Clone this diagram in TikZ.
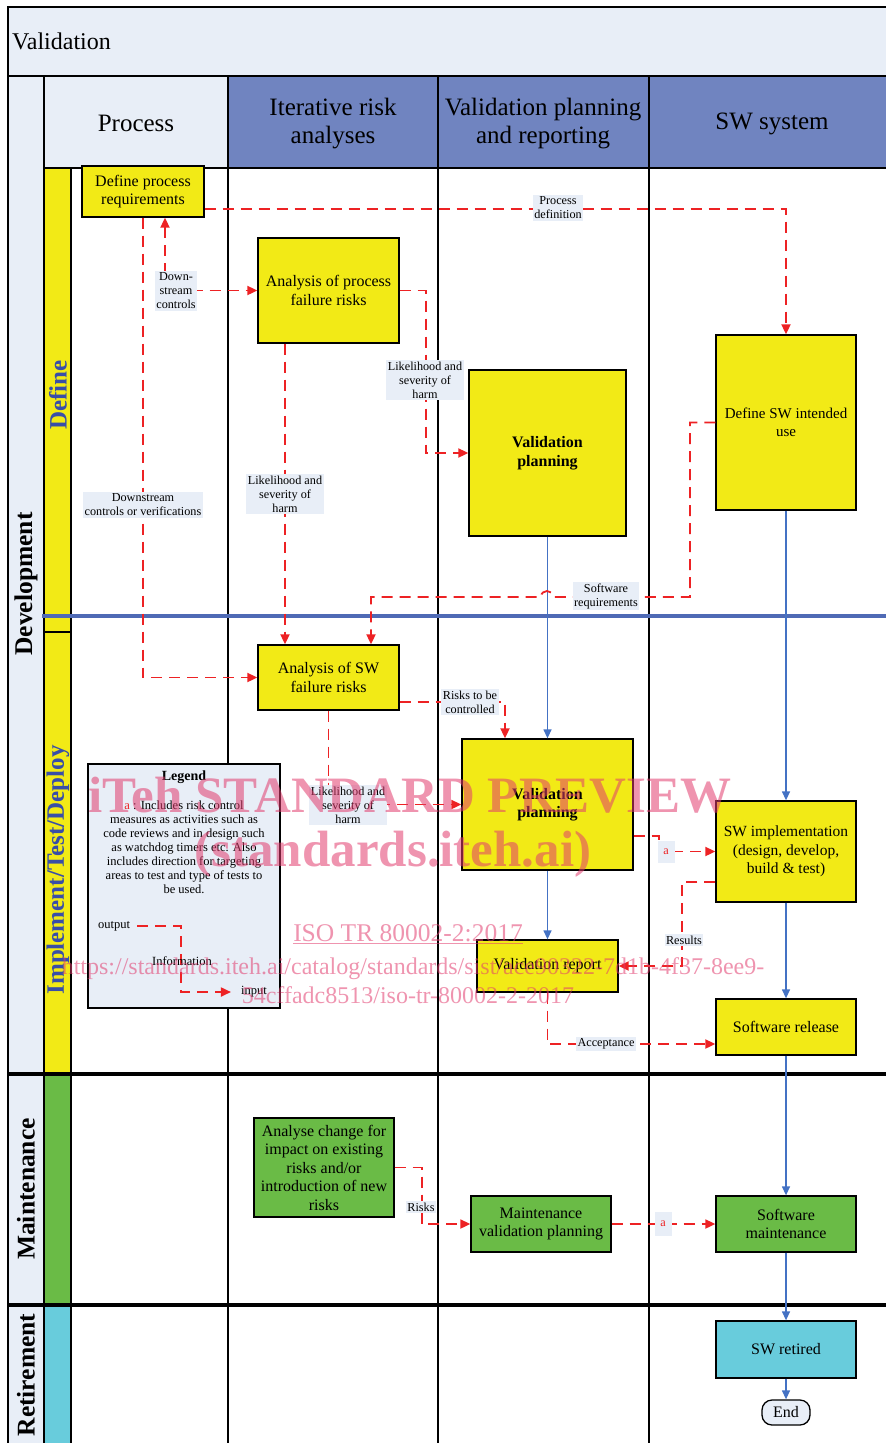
\documentclass[tikz,border=0pt]{standalone}
\usepackage{fontspec}
\setmainfont{Liberation Serif}
\usetikzlibrary{arrows.meta,calc}
\definecolor{ylw}{RGB}{242,234,22}
\definecolor{grn}{RGB}{106,187,70}
\definecolor{cyn}{RGB}{104,204,220}
\definecolor{lightbg}{RGB}{232,238,247}
\definecolor{hdrblue}{RGB}{112,132,192}
\definecolor{redc}{RGB}{237,34,36}
\definecolor{bluec}{RGB}{68,114,196}
\definecolor{divblue}{RGB}{79,106,181}
\definecolor{subblue}{RGB}{56,78,168}
\definecolor{wmc}{RGB}{225,60,110}
\begin{document}
\begin{tikzpicture}[x=1pt,y=-1pt,
  box/.style={draw=black, line width=1.3pt, fill=ylw, align=center, inner sep=1pt, font=\fontsize{16}{18.5}\selectfont},
  gbox/.style={box, fill=grn},
  cbox/.style={box, fill=cyn},
  rd/.style={draw=redc, line width=1.8pt, dash pattern=on 11pt off 7pt, -{Triangle[length=10pt,width=9pt]}},
  rdb/.style={rd, {Triangle[length=10pt,width=9pt]}-{Triangle[length=10pt,width=9pt]}},
  bl/.style={draw=bluec, line width=1.3pt, -{Triangle[length=9pt,width=8pt]}},
  lbl/.style={fill=lightbg, inner sep=1.5pt, align=center, font=\fontsize{12.2}{14}\selectfont},
  gridln/.style={line width=1.6pt, draw=black},
  hdr/.style={align=center, font=\fontsize{25}{28}\selectfont},
  phaselbl/.style={rotate=90, font=\bfseries\fontsize{25.5}{28}\selectfont},
  subph/.style={rotate=90, text=subblue, font=\bfseries\fontsize{25}{28}\selectfont},
  wm/.style={text=wmc, text opacity=0.55, anchor=base, inner sep=0pt},
  lgtxt/.style={font=\fontsize{12.5}{14}\selectfont, align=center, inner sep=1pt}
]
\useasboundingbox (0,0) rectangle (886,1443);
% backgrounds
\fill[lightbg] (8,7) rectangle (886,76);
\fill[lightbg] (8,76) rectangle (44,1443);
\fill[lightbg] (44,76) rectangle (228,168);
\fill[hdrblue] (228,76) rectangle (886,168);
\fill[ylw] (44,168) rectangle (71,1074);
\fill[grn] (44,1074) rectangle (71,1305);
\fill[cyn] (44,1305) rectangle (71,1443);
% grid lines
\draw[gridln] (887,7) -- (8,7) -- (8,1443);
\draw[gridln] (8,76) -- (887,76);
\draw[gridln] (44,168) -- (887,168);
\draw[gridln] (44,76) -- (44,1443);
\draw[gridln] (71,168) -- (71,1443);
\draw[gridln] (228,76) -- (228,1443);
\draw[gridln] (438,76) -- (438,1443);
\draw[gridln] (649,76) -- (649,1443);
\draw[gridln] (44,632) -- (71,632);
\draw[line width=4pt, black] (8,1074) -- (887,1074);
\draw[line width=4pt, black] (8,1305) -- (887,1305);
\draw[line width=4pt, divblue] (42,616) -- (887,616);
% header texts
\node[font=\fontsize{24}{28}\selectfont, anchor=west, inner sep=0pt] (ttl) at (12,41) {Validation};
\node[hdr] (hp) at (136,123) {Process};
\node[hdr] (hi) at (333,124) {Iterative risk\\analyses};
\node[hdr] (hv) at (543,124) {Validation planning\\and reporting};
\node[hdr] (hs) at (772,124) {SW system};
% phase labels
\node[phaselbl] (pdev) at (26,584) {Development};
\node[phaselbl] (pmai) at (26,1189) {Maintenance};
\node[phaselbl] (pret) at (26,1375) {Retirement};
\node[subph] (sdef) at (58,395) {Define};
\node[subph] (simp) at (58,870) {Implement/Test/Deploy};
% boxes
\node[box, minimum width=122pt, minimum height=51pt] (dpr) at (143,191.5) {Define process\\requirements};
\node[box, minimum width=141pt, minimum height=105pt] (apf) at (328.5,290.5) {Analysis of process\\failure risks};
\node[box, minimum width=157pt, minimum height=166pt, font=\bfseries\fontsize{16}{18.5}\selectfont] (vp1) at (547.5,453) {Validation\\planning};
\node[box, minimum width=140pt, minimum height=175pt, font=\fontsize{15}{18.5}\selectfont] (dsw) at (786,422.5) {Define SW intended\\use};
\node[box, minimum width=141pt, minimum height=65pt] (asw) at (328.5,677.5) {Analysis of SW\\failure risks};
\node[box, minimum width=171pt, minimum height=131pt, font=\bfseries\fontsize{16}{18.5}\selectfont] (vp2) at (547.5,804.5) {Validation\\planning};
\node[box, minimum width=140pt, minimum height=101pt, font=\fontsize{15.5}{18.5}\selectfont] (sw) at (786,851.5) {SW implementation\\(design, develop,\\build \& test)};
\node[box, minimum width=141pt, minimum height=52pt] (vr) at (547.5,966) {Validation report};
\node[box, minimum width=140pt, minimum height=56pt] (rel) at (786,1027) {Software release};
\node[gbox, minimum width=140pt, minimum height=99pt] (ac) at (324,1167.5) {Analyse change for\\impact on existing\\risks and/or\\introduction of new\\risks};
\node[gbox, minimum width=140pt, minimum height=56pt] (mvp) at (541,1224) {Maintenance\\validation planning};
\node[gbox, minimum width=140pt, minimum height=56pt] (sm) at (786,1224) {Software\\maintenance};
\node[cbox, minimum width=140pt, minimum height=57pt] (ret) at (786,1349.5) {SW retired};
\node[box, fill=lightbg, rounded corners=10pt, minimum width=48pt, minimum height=25pt] (end) at (786,1412.5) {End};
% legend
\node[draw=black, line width=1.3pt, fill=lightbg, minimum width=192pt, minimum height=244pt] (leg) at (184,886) {};
\node[font=\bfseries\fontsize{14}{16}\selectfont, inner sep=0pt] (lgt) at (184,777) {Legend};
\node[lgtxt] (lgb) at (184,847) {\textcolor{redc}{a} : Includes risk control\\measures as activities such as\\code reviews and in design such\\as watchdog timers etc. Also\\includes direction for targeting\\areas to test and type of tests to\\be used.};
\node[lgtxt] (lout) at (114,926) {output};
\node[lgtxt] (lin) at (254,992) {input};
\draw[rd] ([xshift=6pt]lout.east) -| (181,992) -- ([xshift=-9pt]lin.west);
\node[lgtxt] (linf) at (182,961) {Information};
% blue connectors
\draw[bl] (vp1.south) -- (vp2.north);
\draw[bl] (dsw.south) -- (sw.north);
\draw[bl] (vp2.south) -- (vr.north);
\draw[bl] (sw.south) -- (rel.north);
\draw[bl] (rel.south) -- (sm.north);
\draw[bl] (sm.south) -- (ret.north);
\draw[bl] (ret.south) -- (end.north);
% red connectors
\draw[rd] ([yshift=-17.5pt]dpr.east) -| (dsw.north);
\draw[rd] (dpr.south) |- (asw.west);
\draw[rdb] ([xshift=22pt]dpr.south) |- (apf.west);
\draw[rd] (apf.east) -- ++(26,0) |- (vp1.west);
\draw[rd] ([xshift=-43.5pt]apf.south) -- ([xshift=-43.5pt]asw.north);
\draw[rd] (dsw.west) -| (690,597) -- (553,597) .. controls (553,589) and (541,589) .. (541,597) -- (371,597) -- ([xshift=42.5pt]asw.north);
\draw[rd] ([yshift=-24.5pt]asw.east) -| ([xshift=-42.5pt]vp2.north);
\draw[rd] (asw.south) |- (vp2.west);
\draw[rd] ([yshift=-31.5pt]vp2.east) -- ++(25,0) |- (sw.west);
\draw[rd] ([yshift=-30.5pt]sw.west) -- ++(-33,0) |- (vr.east);
\draw[rd] (vr.south) |- ([yshift=-17pt]rel.west);
\draw[rd] (ac.east) -- ++(27,0) |- (mvp.west);
\draw[rd] (mvp.east) -- (sm.west);
% connector labels
\node[lbl] (l1) at (558,208) {Process\\definition};
\node[lbl] (l2) at (176,291) {Down-\\stream\\controls};
\node[lbl] (l3) at (425,380) {Likelihood and\\severity of\\harm};
\node[lbl] (l4) at (285,494) {Likelihood and\\severity of\\harm};
\node[lbl] (l5) at (143,505) {Downstream\\controls or verifications};
\node[lbl] (l6) at (606,596) {Software\\requirements};
\node[lbl] (l7) at (470,702) {Risks to be\\controlled};
\node[lbl] (l8) at (348,805) {Likelihood and\\severity of\\harm};
\node[lbl, text=redc, minimum width=17pt, minimum height=22pt] (l9) at (666,851.5) {a};
\node[lbl] (l10) at (684,940) {Results};
\node[lbl] (l11) at (606,1044) {Acceptance};
\node[lbl] (l12) at (421,1207) {Risks};
\node[lbl, text=redc, minimum width=17pt, minimum height=24pt] (l13) at (663,1224) {a};
% watermark
\node[wm, font=\bfseries\fontsize{51}{55}\selectfont] (w1) at (410,812) {iTeh STANDARD PREVIEW};
\node[wm, font=\bfseries\fontsize{51}{55}\selectfont] (w2) at (393,866) {(standards.iteh.ai)};
\node[wm, font=\fontsize{25.5}{28}\selectfont] (w3) at (408,941) {\underline{ISO TR 80002-2:2017}};
\node[wm, font=\fontsize{24}{27}\selectfont] (w4) at (413,974) {https://standards.iteh.ai/catalog/standards/sist/ace90322-7d1b-4f37-8ee9-};
\node[wm, font=\fontsize{24}{27}\selectfont] (w5) at (408,1003) {54cffadc8513/iso-tr-80002-2-2017};
\end{tikzpicture}
\end{document}
